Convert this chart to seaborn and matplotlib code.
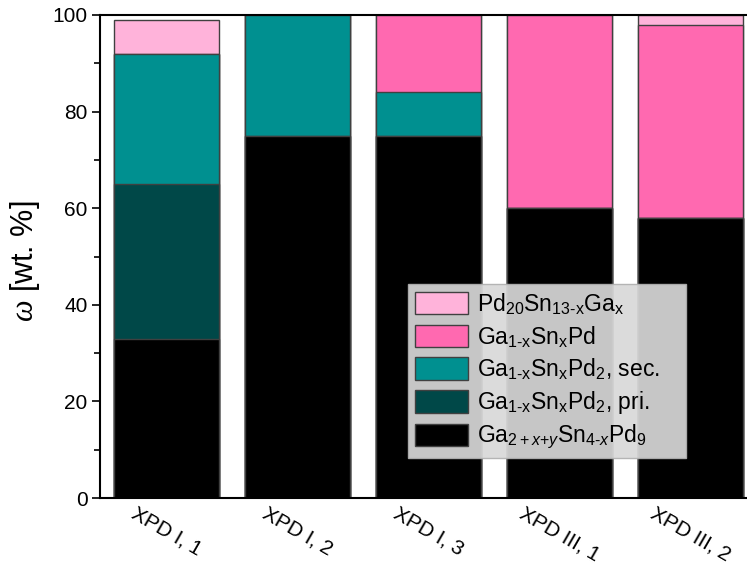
import matplotlib
matplotlib.use("Agg")
import matplotlib.pyplot as plt
import seaborn as sns
import numpy as np
import pandas as pd
from matplotlib.patches import Patch
from matplotlib.ticker import MultipleLocator

samples = ["XPD I, 1", "XPD I, 2", "XPD I, 3", "XPD III, 1", "XPD III, 2"]
ga_sn_pd9 = [33, 75, 75, 60, 58]
pd2_pri = [32, 0, 0, 0, 0]
pd2_sec = [27, 25, 9, 0, 0]
gasnpd = [0, 0, 16, 40, 40]
pd20 = [7, 0, 0, 0, 2]

labels = [
    r"Ga$_{\mathrm{2+}x\mathrm{+}y}$Sn$_{\mathrm{4\text{-}}x}$Pd$_{\mathrm{9}}$",
    r"Ga$_{\mathrm{1\text{-}x}}$Sn$_{\mathrm{x}}$Pd$_{\mathrm{2}}$, pri.",
    r"Ga$_{\mathrm{1\text{-}x}}$Sn$_{\mathrm{x}}$Pd$_{\mathrm{2}}$, sec.",
    r"Ga$_{\mathrm{1\text{-}x}}$Sn$_{\mathrm{x}}$Pd",
    r"Pd$_{\mathrm{20}}$Sn$_{\mathrm{13\text{-}x}}$Ga$_{\mathrm{x}}$",
]
colors = ["#000000", "#004848", "#009090", "#FF69B0", "#FFB3DA"]

sns.set_theme(style="ticks")
plt.rcParams["font.family"] = ["Liberation Sans", "DejaVu Sans"]
plt.rcParams["mathtext.fontset"] = "custom"
plt.rcParams["mathtext.rm"] = "Liberation Sans"
plt.rcParams["mathtext.it"] = "Liberation Sans:italic"
plt.rcParams["mathtext.sf"] = "Liberation Serif:italic"
for key in ["text.color", "axes.labelcolor", "xtick.color", "ytick.color",
            "xtick.labelcolor", "ytick.labelcolor"]:
    plt.rcParams[key] = "black"

series = [ga_sn_pd9, pd2_pri, pd2_sec, gasnpd, pd20]
cum = np.cumsum(np.array(series, dtype=float), axis=0)

fig = plt.figure(figsize=(7.47, 5.71), dpi=100)
ax = fig.add_axes([100 / 747, 1 - 498 / 571, 1 - 100 / 747, (498 - 15) / 571])

for i in range(len(series) - 1, -1, -1):
    df = pd.DataFrame({"sample": samples, "value": cum[i]})
    sns.barplot(data=df, x="sample", y="value", color=colors[i], ax=ax,
                width=0.8, edgecolor="#404040", linewidth=1.0, saturation=1)

ax.set_xlim(-0.508, 4.43)
ax.set_ylim(0, 100)
ax.yaxis.set_major_locator(MultipleLocator(20))
ax.yaxis.set_minor_locator(MultipleLocator(10))
ax.tick_params(axis="y", which="major", length=6, width=1.2, labelsize=15, direction="out", pad=3)
ax.tick_params(axis="y", which="minor", length=4, width=1.2, direction="out")
ax.tick_params(axis="x", length=0, labelsize=15, pad=4)
for lab in ax.get_xticklabels():
    lab.set_rotation(-30)
    lab.set_ha("center")
ax.set_xlabel("")
ax.set_ylabel(r"$\mathsf{\omega}$ [wt. %]", fontsize=22)
ax.yaxis.set_label_coords(-0.09, 0.49)
for s in ["left", "bottom", "top"]:
    ax.spines[s].set_linewidth(1.5)
    ax.spines[s].set_color("black")
ax.spines["right"].set_visible(False)

handles = [Patch(facecolor=colors[i], edgecolor="#404040", linewidth=1.0, label=labels[i])
           for i in range(len(series) - 1, -1, -1)]
x0, x1 = 408 / 747, 686 / 747
ytop = 1 - 284 / 571
leg = ax.legend(handles=handles, loc="upper left", mode="expand",
                bbox_to_anchor=(x0, ytop - 0.3, x1 - x0, 0.3), bbox_transform=fig.transFigure,
                fontsize=16.5, frameon=True, fancybox=False, framealpha=0.92,
                facecolor="#d8d8d8", edgecolor="#b0b0b0", handlelength=2.3,
                handleheight=1.13, labelspacing=0.3, borderpad=0.3, handletextpad=0.4,
                borderaxespad=0)
leg.get_frame().set_linewidth(1.0)

fig.savefig("out.png", dpi=100)
